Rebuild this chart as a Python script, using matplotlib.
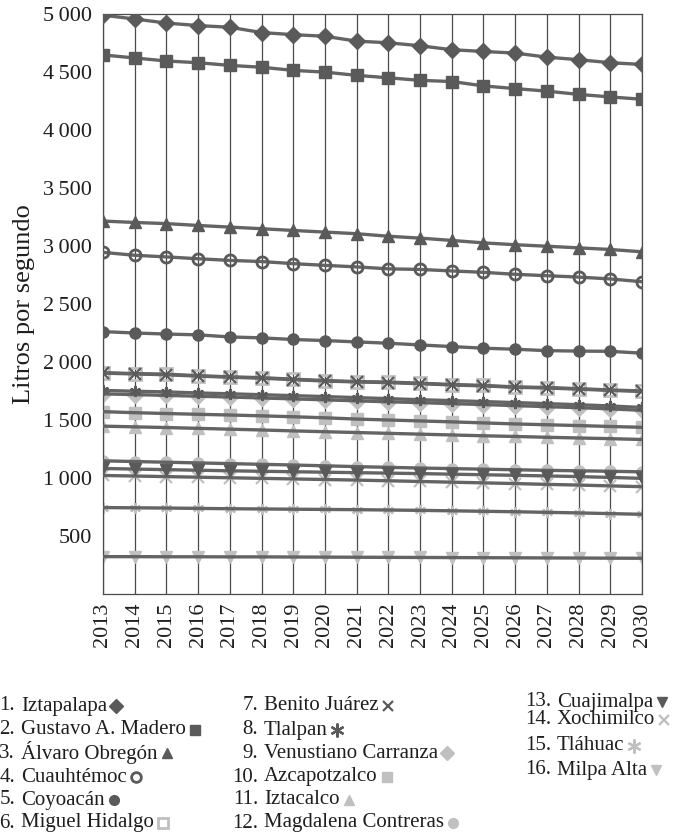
import matplotlib.pyplot as plt
from matplotlib.lines import Line2D

plt.rcParams["font.family"] = ["Liberation Serif", "DejaVu Serif"]

# --- datos: caudal estimado por delegacion (litros por segundo) ---
years = [2013, 2014, 2015, 2016, 2017, 2018, 2019, 2020, 2021,
         2022, 2023, 2024, 2025, 2026, 2027, 2028, 2029, 2030]

iztapalapa = [4990, 4957, 4922, 4900, 4886, 4840, 4822, 4808, 4766,
              4752, 4726, 4692, 4677, 4663, 4628, 4606, 4580, 4565]
gustavo_madero = [4647, 4621, 4595, 4580, 4557, 4541, 4514, 4499, 4471,
                  4450, 4428, 4418, 4380, 4357, 4335, 4307, 4285, 4265]
alvaro_obregon = [3215, 3203, 3193, 3177, 3163, 3149, 3134, 3120, 3106,
                  3084, 3068, 3048, 3027, 3011, 2998, 2984, 2970, 2950]
cuauhtemoc = [2945, 2920, 2906, 2890, 2876, 2866, 2848, 2833, 2820,
              2803, 2798, 2785, 2773, 2756, 2744, 2732, 2716, 2692]
coyoacan = [2262, 2250, 2241, 2234, 2216, 2208, 2194, 2185, 2173,
            2162, 2147, 2133, 2119, 2110, 2098, 2094, 2092, 2076]
miguel_hidalgo = [1908, 1900, 1895, 1882, 1872, 1865, 1852, 1840, 1831,
                  1827, 1817, 1806, 1798, 1785, 1780, 1770, 1759, 1750]
benito_juarez = [1904, 1897, 1890, 1878, 1869, 1860, 1848, 1836, 1828,
                 1822, 1813, 1802, 1794, 1782, 1776, 1766, 1755, 1746]
tlalpan = [1755, 1748, 1742, 1733, 1726, 1718, 1710, 1702, 1693,
           1684, 1675, 1667, 1659, 1650, 1641, 1632, 1621, 1608]
venustiano_carranza = [1725, 1719, 1712, 1705, 1698, 1690, 1682, 1674, 1665,
                       1657, 1650, 1641, 1633, 1624, 1615, 1606, 1596, 1583]
azcapotzalco = [1572, 1563, 1556, 1549, 1543, 1536, 1528, 1519, 1508,
                1500, 1492, 1484, 1475, 1466, 1459, 1452, 1444, 1437]
iztacalco = [1447, 1441, 1435, 1428, 1421, 1414, 1406, 1399, 1392,
             1385, 1378, 1371, 1364, 1358, 1351, 1345, 1339, 1332]
magdalena_contreras = [1148, 1142, 1136, 1130, 1124, 1118, 1112, 1105, 1098,
                       1092, 1086, 1081, 1076, 1071, 1066, 1062, 1058, 1053]
cuajimalpa = [1082, 1077, 1072, 1067, 1062, 1058, 1054, 1050, 1046,
              1042, 1038, 1033, 1028, 1023, 1018, 1012, 1005, 997]
xochimilco = [1022, 1017, 1012, 1007, 1002, 997, 992, 987, 982,
              976, 970, 964, 958, 952, 945, 939, 932, 925]
tlahuac = [745, 743, 741, 738, 735, 733, 731, 729, 727,
           724, 721, 717, 713, 709, 704, 699, 693, 687]
milpa_alta = [322, 322, 321, 321, 320, 320, 319, 318, 317,
              316, 315, 314, 313, 312, 311, 310, 309, 308]

y_ticks = [500, 1000, 1500, 2000, 2500, 3000, 3500, 4000, 4500, 5000]

DARK = "#5a5a5a"
LIGHT = "#c0c0c0"
LINE = "#646464"
GRID = "#4a4a4a"
TEXT = "#1e1e1e"
STAR = (6, 2, 0)

# (nombre, valores, marcador, color, hueco)
series = [
    ("Iztapalapa", iztapalapa, "D", DARK, False),
    ("Gustavo A. Madero", gustavo_madero, "s", DARK, False),
    ("Álvaro Obregón", alvaro_obregon, "^", DARK, False),
    ("Cuauhtémoc", cuauhtemoc, "o", DARK, True),
    ("Coyoacán", coyoacan, "o", DARK, False),
    ("Miguel Hidalgo", miguel_hidalgo, "s", LIGHT, True),
    ("Benito Juárez", benito_juarez, "x", DARK, False),
    ("Tlalpan", tlalpan, STAR, DARK, False),
    ("Venustiano Carranza", venustiano_carranza, "D", LIGHT, False),
    ("Azcapotzalco", azcapotzalco, "s", LIGHT, False),
    ("Iztacalco", iztacalco, "^", LIGHT, False),
    ("Magdalena Contreras", magdalena_contreras, "o", LIGHT, False),
    ("Cuajimalpa", cuajimalpa, "v", DARK, False),
    ("Xochimilco", xochimilco, "x", LIGHT, False),
    ("Tláhuac", tlahuac, STAR, LIGHT, False),
    ("Milpa Alta", milpa_alta, "v", LIGHT, False),
]


def marker_style(marker, color, hollow, size, face="none"):
    st = dict(marker=marker, markersize=size, color=color)
    if hollow:
        st.update(markerfacecolor=face, markeredgecolor=color, markeredgewidth=2.0)
    elif marker in ("x", STAR):
        st.update(markeredgecolor=color, markeredgewidth=1.6)
    else:
        st.update(markerfacecolor=color, markeredgecolor=color)
    return st


fig = plt.figure(figsize=(6.87, 8.36), dpi=100)
ax = fig.add_axes([103 / 687, 1 - 594 / 836, 539 / 687, 580 / 836])

for name, vals, mk, col, hollow in series:
    ax.plot(years, vals, color=LINE, lw=2.4, zorder=3, solid_capstyle="round")
    ax.plot(years, vals, ls="none", zorder=4 if col == DARK else 2,
            **marker_style(mk, col, hollow, 8))

ax.set_xlim(years[0], years[-1])
ax.set_ylim(0, 5000)
ax.set_xticks(years)
ax.set_xticklabels([str(y) for y in years], rotation=90, fontsize=16)
ax.set_yticks(y_ticks)
ax.set_yticklabels([f"{v:,}".replace(",", "\u2009") for v in y_ticks], fontsize=16)
ax.tick_params(length=0, colors=TEXT)
ax.tick_params(axis="y", pad=8)
ax.tick_params(axis="x", pad=6)
ax.grid(axis="x", color=GRID, lw=0.9, zorder=1)
for sp in ax.spines.values():
    sp.set_color(GRID)
    sp.set_linewidth(0.9)
ax.set_ylabel("Litros por segundo", fontsize=19, color=TEXT, labelpad=6)

# --- leyenda numerada en tres columnas ---
col_x = [(15, 21), (258, 264), (551, 557)]
rows_12 = [706, 730, 753, 777, 800, 823]
rows_3 = [702, 720, 746, 770]
positions = [(col_x[0], r) for r in rows_12] + \
            [(col_x[1], r) for r in rows_12] + \
            [(col_x[2], r) for r in rows_3]

W, H = 687, 836
name_texts = []
for k, ((name, vals, mk, col, hollow), ((xn, xt), yr)) in enumerate(zip(series, positions)):
    fig.text(xn / W, 1 - yr / H, f"{k + 1}.", ha="right", va="center",
             fontsize=15, color=TEXT)
    t = fig.text(xt / W, 1 - yr / H, name, ha="left", va="center",
                 fontsize=15, color=TEXT)
    name_texts.append((t, mk, col, hollow))

fig.canvas.draw()
renderer = fig.canvas.get_renderer()
for t, mk, col, hollow in name_texts:
    bb = t.get_window_extent(renderer)
    x = (bb.x1 + 9) / fig.bbox.width
    y = (bb.y0 + bb.y1) / 2 / fig.bbox.height
    size = 10 if mk == STAR else 7
    fig.add_artist(Line2D([x], [y], ls="none", transform=fig.transFigure,
                          **marker_style(mk, col, hollow, size, face="white")))

fig.savefig("out.png", dpi=100, facecolor="white")
